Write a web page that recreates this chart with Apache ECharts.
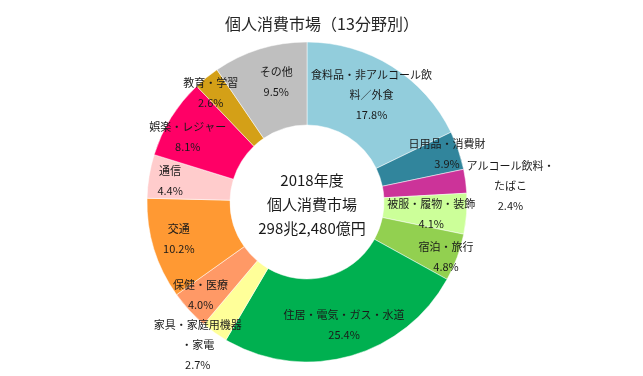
<!DOCTYPE html>
<html>
<head>
<meta charset="utf-8">
<script src="https://cdn.jsdelivr.net/npm/echarts@6/dist/echarts.min.js"></script>
<style>
    html, body { margin: 0; padding: 0; background: #fff; }
    #chart { width: 643px; height: 376px; }
</style>
</head>
<body>
<div id="chart"></div>
<script>
// 分野名（ラベル表示用、改行込み）
var names = [
    '食料品・非アルコール飲\n料／外食',
    '日用品・消費財',
    'アルコール飲料・\nたばこ',
    '被服・履物・装飾',
    '宿泊・旅行',
    '住居・電気・ガス・水道',
    '家具・家庭用機器\n・家電',
    '保健・医療',
    '交通',
    '通信',
    '娯楽・レジャー',
    '教育・学習',
    'その他'
];
// 構成比（%）
var shares = [17.8, 3.9, 2.4, 4.1, 4.8, 25.4, 2.7, 4.0, 10.2, 4.4, 8.1, 2.6, 9.5];

var colors = ['#92CDDC', '#31859C', '#CC3399', '#CCFF99', '#92D050', '#00B050',
    '#FFFF99', '#FF9966', '#FF9933', '#FFCCCC', '#FF0066', '#D4A017', '#BFBFBF'];

// ラベル位置の微調整（Excelのラベル配置に合わせる）
var labelShift = [
    [0, -4], [25, -9], [83, 0], [3, 3], [25, 13], [5, 6],
    [-39, 44], [-17, 11], [-12, 1], [-17, -2], [-16, -1], [-20, -15], [5, -4]
];

var chart = echarts.init(document.getElementById('chart'));

var pieData = [];
for (var i = 0; i < names.length; i++) {
    pieData.push({
        name: names[i],
        value: shares[i],
        itemStyle: { color: colors[i] }
    });
}

var font = '"Noto Sans CJK JP", sans-serif';

var option = {
    animation: false,
    title: [
        {
            text: '個人消費市場（13分野別）',
            left: 317,
            top: 11,
            textAlign: 'center',
            textStyle: { fontSize: 16, fontWeight: 'normal', color: '#262626', fontFamily: font }
        },
        {
            text: '2018年度\n個人消費市場\n298兆2,480億円',
            left: 307,
            top: 163,
            textAlign: 'center',
            textStyle: { fontSize: 15, fontWeight: 'normal', color: '#1a1a1a', lineHeight: 24, fontFamily: font }
        }
    ],
    series: [
        {
            type: 'pie',
            center: [307, 202],
            radius: [77, 160],
            startAngle: 90,
            clockwise: true,
            avoidLabelOverlap: false,
            itemStyle: { borderColor: '#fff', borderWidth: 0.5 },
            label: {
                show: true,
                position: 'inside',
                formatter: function (p) {
                    return p.name + '\n' + p.value.toFixed(1) + '%';
                },
                fontSize: 11,
                lineHeight: 20,
                color: '#1a1a1a',
                fontFamily: font
            },
            labelLine: { show: false },
            labelLayout: function (params) {
                var s = labelShift[params.dataIndex];
                return { dx: s[0], dy: s[1] };
            },
            emphasis: { disabled: true },
            data: pieData
        }
    ]
};

chart.setOption(option);
</script>
</body>
</html>
